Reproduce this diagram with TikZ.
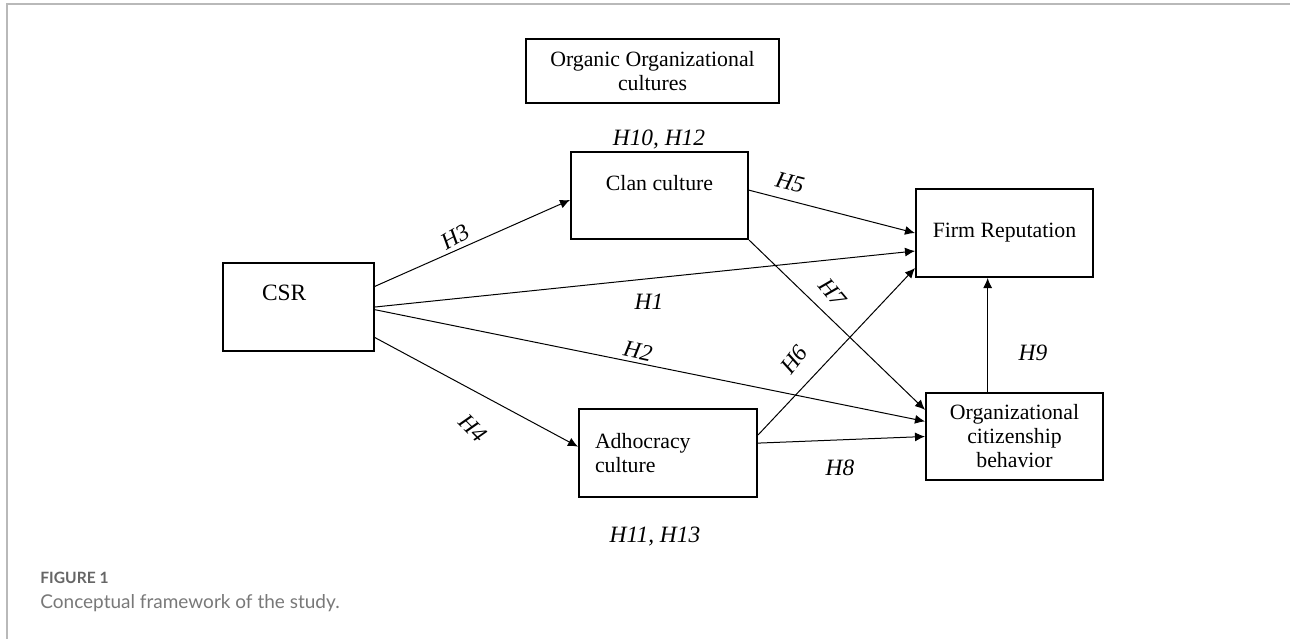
\documentclass[tikz,border=0pt]{standalone}
\usepackage{fontspec}
\setmainfont{Liberation Serif}
\newfontfamily\capfont{Lato}
\usepackage{xcolor}
\definecolor{framegray}{RGB}{185,185,185}
\definecolor{captiongray}{RGB}{120,120,120}
\usetikzlibrary{arrows.meta,positioning,calc}

\begin{document}
\begin{tikzpicture}[
    x=0.5pt, y=-0.5pt,
    construct/.style={rectangle, draw, line width=1pt, inner sep=0pt, align=center, font=\fontsize{10.9}{11.6}\selectfont},
    hyp/.style={inner sep=0pt, font=\fontsize{11.7}{11.8}\selectfont\itshape},
    link/.style={-{Latex[length=5pt,width=4.5pt]}, line width=0.5pt},
    caption/.style={anchor=west, inner sep=0pt}
]

\useasboundingbox (0,0) rectangle (1290,639);
\draw[framegray, line width=1pt] (1290,4) -- (7,4) -- (7,639);

\node[construct, minimum width=126.5pt, minimum height=32pt] (organic) at (652.5,71) {Organic Organizational\\cultures};
\node[construct, minimum width=88.5pt, text height=19pt, text depth=24.5pt] (clan) at (659.5,195.5) {Clan culture};
\node[construct, text width=36.5pt, inner xsep=19.5pt, align=left, text height=18.9pt, text depth=25.1pt, font=\fontsize{11.7}{12}\selectfont] (csr) at (298.5,307) {CSR};
\node[construct, minimum width=88.5pt, minimum height=44pt] (firm) at (1004.5,233) {Firm Reputation};
\node[construct, minimum width=88.5pt, minimum height=43.5pt, font=\fontsize{10.9}{12}\selectfont] (ocb) at (1014.5,436.5) {Organizational\\citizenship\\behavior};
\node[construct, text width=73pt, inner xsep=8pt, align=left, minimum height=44pt] (adho) at (668,453) {Adhocracy\\culture};

\draw[link] ($(csr.north east)!0.27!(csr.south east)$) -- ($(clan.north west)!0.55!(clan.south west)$);
\draw[link] (csr.east) -- ($(firm.north west)!0.7!(firm.south west)$);
\draw[link] ($(csr.north east)!0.53!(csr.south east)$) -- ($(ocb.north west)!0.33!(ocb.south west)$);
\draw[link] ($(csr.north east)!0.84!(csr.south east)$) -- ($(adho.north west)!0.43!(adho.south west)$);
\draw[link] ($(clan.north east)!0.44!(clan.south east)$) -- (firm.west);
\draw[link] (clan.south east) -- ($(ocb.north west)!0.2!(ocb.south west)$);
\draw[link] ($(adho.north east)!0.3!(adho.south east)$) -- ($(firm.north west)!0.89!(firm.south west)$);
\draw[link] ($(adho.north east)!0.39!(adho.south east)$) -- (ocb.west);
\coordinate (h9start) at ($(ocb.north west)!0.35!(ocb.north east)$);
\draw[link] (h9start) -- (h9start |- firm.south);

\node[hyp] (h1012) at (659,140) {H10, H12};
\node[hyp] (h1113) at (655,537) {H11, H13};
\node[hyp, rotate=30] (h3) at (455,237) {H3};
\node[hyp] (h1) at (649,302) {H1};
\node[hyp, rotate=-12] (h2) at (638,351) {H2};
\node[hyp, rotate=-45] (h4) at (473,428) {H4};
\node[hyp, rotate=-14] (h5) at (790,183) {H5};
\node[hyp, rotate=-50] (h7) at (833,293) {H7};
\node[hyp, rotate=52] (h6) at (794,360) {H6};
\node[hyp] (h8) at (840,468) {H8};
\node[hyp] (h9) at (1033,353) {H9};

\node[caption, text=captiongray!85!black, font=\capfont\bfseries\fontsize{7.8}{9}\selectfont] (figlabel) at (40,578) {FIGURE 1};
\node[caption, text=captiongray, font=\capfont\fontsize{9.5}{11}\selectfont] (figcaption) at (40,603) {Conceptual framework of the study.};

\end{tikzpicture}
\end{document}
